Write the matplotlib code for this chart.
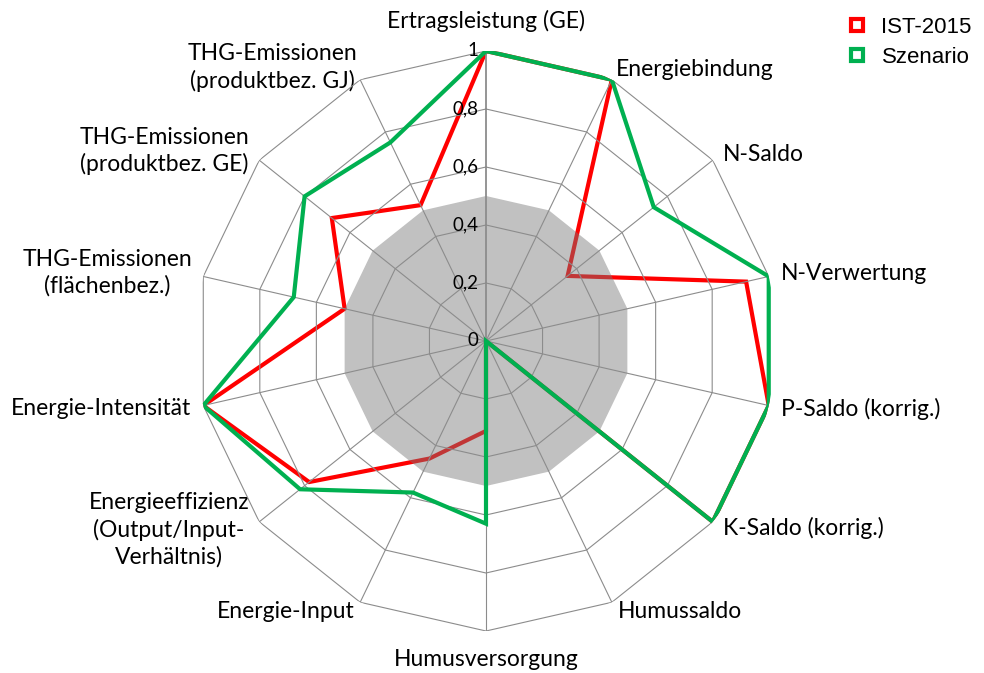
import matplotlib
matplotlib.use("Agg")
import matplotlib.pyplot as plt
import numpy as np
from matplotlib.lines import Line2D

# Indikatoren im Uhrzeigersinn ab 12 Uhr
kategorien = [
    "Ertragsleistung (GE)",
    "Energiebindung",
    "N-Saldo",
    "N-Verwertung",
    "P-Saldo (korrig.)",
    "K-Saldo (korrig.)",
    "Humussaldo",
    "Humusversorgung",
    "Energie-Input",
    "Energieeffizienz\n(Output/Input-\nVerhältnis)",
    "Energie-Intensität",
    "THG-Emissionen\n(flächenbez.)",
    "THG-Emissionen\n(produktbez. GE)",
    "THG-Emissionen\n(produktbez. GJ)",
]
ist_2015 = [1.0, 1.0, 0.36, 0.92, 1.0, 1.0, 0.0, 0.31, 0.45, 0.78, 1.0, 0.50, 0.68, 0.52]
szenario = [1.0, 1.0, 0.74, 1.0, 1.0, 1.0, 0.0, 0.63, 0.58, 0.82, 1.0, 0.68, 0.80, 0.76]
ringe = [0.2, 0.4, 0.6, 0.8, 1.0]
ring_labels = ["0", "0,2", "0,4", "0,6", "0,8", "1"]
grauzone = 0.5

plt.rcParams["font.family"] = ["Lato", "DejaVu Sans"]

n = len(kategorien)
theta = np.arange(n) * 2 * np.pi / n
theta_zu = np.append(theta, theta[0])

def zu(werte):
    return np.append(werte, werte[0])

fig = plt.figure(figsize=(9.84, 6.73), dpi=100)
ax = fig.add_axes([196 / 984, 42 / 673, 580 / 984, 580 / 673], projection="polar")
ax.set_theta_zero_location("N")
ax.set_theta_direction(-1)
ax.set_ylim(0, 1)
ax.grid(False)
ax.set_xticks([])
ax.set_yticks([])
ax.spines["polar"].set_visible(False)

# IST-Linie liegt unter der grauen Fläche
ax.plot(theta_zu, zu(ist_2015), color="#FF0000", lw=3, zorder=2, solid_joinstyle="miter")

# graue Zone bis 0,5
ax.fill(theta_zu, zu([grauzone] * n), color=(120 / 255, 120 / 255, 120 / 255),
        alpha=0.46, lw=0, zorder=3)

# Netz: Ringe und Speichen
for r in ringe:
    ax.plot(theta_zu, zu([r] * n), color="#8C8C8C", lw=0.8, zorder=4)
for t in theta:
    ax.plot([t, t], [0, 1], color="#8C8C8C", lw=1.3 if t == 0 else 0.8, zorder=4)

ax.plot(theta_zu, zu(szenario), color="#00B050", lw=3, zorder=5, solid_joinstyle="miter")

# Achsenbeschriftung der Skala
for r, lab in zip([0] + ringe, ring_labels):
    ax.annotate(lab, xy=(0, r), xytext=(-8, 0), textcoords="offset pixels",
                ha="right", va="center", fontsize=13.5, zorder=6)

# Kategorienbeschriftung
versatz = [
    (0, 30, "center"), (4, 10, "left"), (10, 6, "left"), (12, 3, "left"),
    (12, -3, "left"), (10, -6, "left"), (6, -9, "left"), (0, -29, "center"),
    (-6, -9, "right"), (-10, -8, "right"), (-12, -3, "right"), (-11, 4, "right"),
    (-10, 9, "right"), (-3, 12, "right"),
]
for t, lab, (dx, dy, ha) in zip(theta, kategorien, versatz):
    ax.annotate(lab, xy=(t, 1), xytext=(dx, dy), textcoords="offset pixels",
                ha=ha, va="center", multialignment="center", fontsize=16.5,
                linespacing=1.3, annotation_clip=False)

handles = [
    Line2D([], [], ls="none", marker="s", ms=9, mfc="white", mec="#FF0000", mew=3),
    Line2D([], [], ls="none", marker="s", ms=9, mfc="white", mec="#00B050", mew=3),
]
fig.legend(handles, ["IST-2015", "Szenario"], loc="upper right",
           bbox_to_anchor=(1.008, 1.005), frameon=False, handlelength=0.8,
           handletextpad=0.7, labelspacing=0.4,
           prop={"family": "Liberation Sans", "size": 16})

fig.savefig("out.png", dpi=100)
